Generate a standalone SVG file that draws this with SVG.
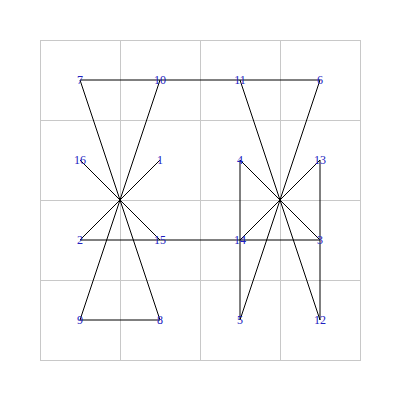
<svg xmlns="http://www.w3.org/2000/svg" width="400" height="400" viewBox="0 0 400 400">
<style>
.grid{stroke:#c8c8c8;stroke-width:1;fill:none}
.e{stroke:#000;stroke-width:1;fill:none}
.lbl{font-family:"Liberation Serif",serif;font-size:12px;fill:#2020c0;text-anchor:middle;dominant-baseline:central}
</style>
<rect width="400" height="400" fill="#fff"/>
<g id="grid" class="grid">
<rect x="40.5" y="40.5" width="320" height="320"/>
<path d="M120.5 40V360M200.5 40V360M280.5 40V360M40 120.5H360M40 200.5H360M40 280.5H360"/>
</g>
<g id="connectors" class="e">
<path d="M80 80H320M80 240H320M80 320H160"/>
<path d="M120 200L80 80M120 200L160 80M120 200L80 160M120 200L160 160M120 200L80 240M120 200L160 240M120 200L80 320M120 200L160 320"/>
<path d="M280 200L240 80M280 200L320 80M280 200L240 160M280 200L320 160M280 200L240 240M280 200L320 240M280 200L240 320M280 200L320 320"/>
<path d="M240 160V320M320 160V320"/>
</g>
<g id="n7"><text class="lbl" x="80" y="80">7</text></g>
<g id="n10"><text class="lbl" x="160" y="80">10</text></g>
<g id="n11"><text class="lbl" x="240" y="80">11</text></g>
<g id="n6"><text class="lbl" x="320" y="80">6</text></g>
<g id="n16"><text class="lbl" x="80" y="160">16</text></g>
<g id="n1"><text class="lbl" x="160" y="160">1</text></g>
<g id="n4"><text class="lbl" x="240" y="160">4</text></g>
<g id="n13"><text class="lbl" x="320" y="160">13</text></g>
<g id="n2"><text class="lbl" x="80" y="240">2</text></g>
<g id="n15"><text class="lbl" x="160" y="240">15</text></g>
<g id="n14"><text class="lbl" x="240" y="240">14</text></g>
<g id="n3"><text class="lbl" x="320" y="240">3</text></g>
<g id="n9"><text class="lbl" x="80" y="320">9</text></g>
<g id="n8"><text class="lbl" x="160" y="320">8</text></g>
<g id="n5"><text class="lbl" x="240" y="320">5</text></g>
<g id="n12"><text class="lbl" x="320" y="320">12</text></g>
</svg>
